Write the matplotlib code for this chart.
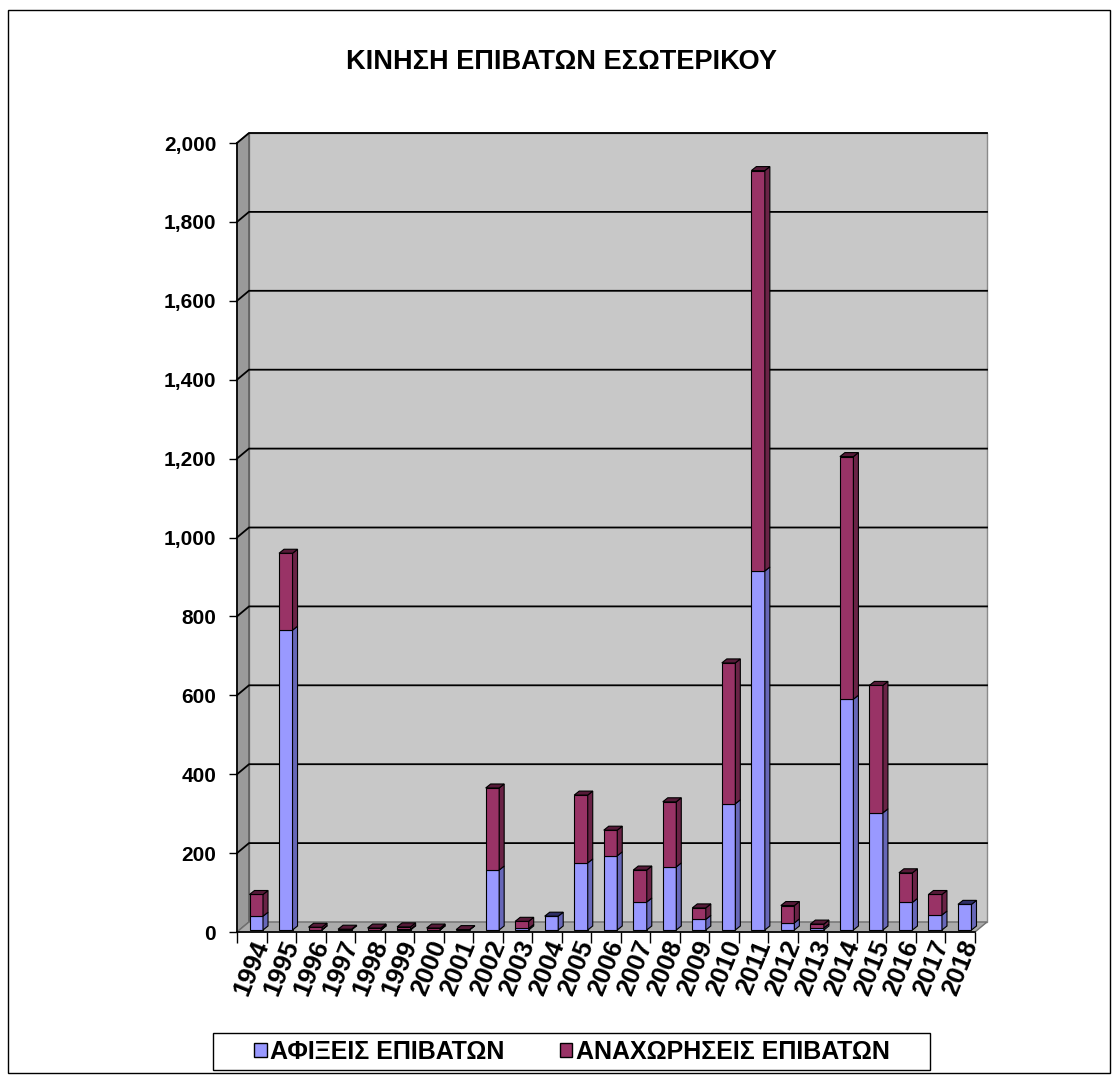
import numpy as np
import matplotlib
matplotlib.use("Agg")
import matplotlib.pyplot as plt
from matplotlib.patches import Polygon, Rectangle
import matplotlib.transforms as mtransforms

plt.rcParams['font.family'] = ['Liberation Sans', 'DejaVu Sans']

# --- data ---------------------------------------------------------------
YEARS = [str(y) for y in range(1994, 2019)]
ARRIVALS = [35, 760, 1, 0, 1, 2, 1, 0, 152, 4, 35, 170, 188, 71, 160,
            27, 320, 910, 18, 5, 585, 297, 70, 38, 65]
DEPARTURES = [55, 195, 6, 2, 4, 6, 4, 1, 208, 18, 0, 172, 65, 81, 165,
              29, 357, 1015, 44, 10, 615, 323, 75, 52, 0]
Y_TICKS = list(range(0, 2001, 200))

TITLE = "ΚΙΝΗΣΗ ΕΠΙΒΑΤΩΝ ΕΣΩΤΕΡΙΚΟΥ"
LABEL_ARR = "ΑΦΙΞΕΙΣ ΕΠΙΒΑΤΩΝ"
LABEL_DEP = "ΑΝΑΧΩΡΗΣΕΙΣ ΕΠΙΒΑΤΩΝ"

C_ARR = "#9999FF"
C_ARR_SIDE = "#6767b8"
C_ARR_TOP = "#2e2e66"
C_DEP = "#993366"
C_DEP_SIDE = "#6a2346"
C_DEP_TOP = "#561a38"

# --- geometry (pixels) ----------------------------------------------------
W, H = 1119, 1077
AX_L, AX_R, AX_B, AX_T = 237, 975, 932, 143
YMAX = 2000
n = len(YEARS)
PX_CAT = (AX_R - AX_L) / n
PX_VAL = (AX_B - AX_T) / YMAX


def px_x(p):
    return p / PX_CAT


def px_y(p):
    return p / PX_VAL


OX, OY = px_x(12), px_y(10)        # wall depth
BAR_W = px_x(13.5)
FX, FY = px_x(4.5), px_y(2)        # bar front offset
DX, DY = px_x(5), px_y(4)          # bar depth

fig = plt.figure(figsize=(W / 100, H / 100), dpi=100)
ax = fig.add_axes([AX_L / W, 1 - AX_B / H, (AX_R - AX_L) / W, (AX_B - AX_T) / H])
ax.set_xlim(-0.5, n - 0.5)
ax.set_ylim(0, YMAX)
ax.set_facecolor("none")

x0, x1 = -0.5, n - 0.5
# walls
ax.add_patch(Polygon([(x0 + OX, OY), (x1 + OX, OY), (x1 + OX, YMAX + OY), (x0 + OX, YMAX + OY)],
                     closed=True, fc="#c8c8c8", ec="#8a8a8a", lw=1, zorder=0, clip_on=False))
ax.add_patch(Polygon([(x0, 0), (x0 + OX, OY), (x0 + OX, YMAX + OY), (x0, YMAX)],
                     closed=True, fc="#9a9a9a", ec="#555555", lw=1, zorder=0, clip_on=False))
ax.add_patch(Polygon([(x0, 0), (x1, 0), (x1 + OX, OY), (x0 + OX, OY)],
                     closed=True, fc="#ababab", ec="#707070", lw=1, zorder=0, clip_on=False))

# gridlines on back wall
for v in Y_TICKS[1:]:
    ax.plot([x0, x0 + OX, x1 + OX], [v, v + OY, v + OY], color="black", lw=1.3,
            zorder=1, clip_on=False)

# bars
x = np.arange(n)
arr = np.array(ARRIVALS, dtype=float)
dep = np.array(DEPARTURES, dtype=float)
ax.bar(x + FX, arr, width=BAR_W, bottom=FY, color=C_ARR, edgecolor="black", lw=0.8, zorder=3)
ax.bar(x + FX, dep, width=BAR_W, bottom=FY + arr, color=C_DEP, edgecolor="black", lw=0.8, zorder=3)

for i in range(n):
    xl = x[i] + FX - BAR_W / 2
    xr = x[i] + FX + BAR_W / 2
    segs = [(FY, arr[i], C_ARR_SIDE), (FY + arr[i], dep[i], C_DEP_SIDE)]
    for b, h, c in segs:
        if h <= 0:
            continue
        ax.add_patch(Polygon([(xr, b), (xr + DX, b + DY), (xr + DX, b + h + DY), (xr, b + h)],
                             closed=True, fc=c, ec="black", lw=0.8, zorder=3, clip_on=False))
    top = FY + arr[i] + dep[i]
    tc = C_DEP_TOP if dep[i] > 0 else C_ARR_TOP
    ax.add_patch(Polygon([(xl, top), (xl + DX, top + DY), (xr + DX, top + DY), (xr, top)],
                         closed=True, fc=tc, ec="black", lw=0.8, zorder=3, clip_on=False))

# axes
for s in ("top", "right"):
    ax.spines[s].set_visible(False)
ax.spines["left"].set_color("black")
ax.spines["bottom"].set_color("black")
ax.spines["left"].set_linewidth(1.2)
ax.spines["bottom"].set_linewidth(1.2)

ax.set_yticks(Y_TICKS)
ax.set_yticklabels([f"{v:,}" for v in Y_TICKS], fontsize=15, fontweight="bold")
ax.tick_params(axis="y", direction="out", length=6, width=1, pad=9)

ax.set_xticks(x)
ax.set_xticks(np.arange(n + 1) - 0.5, minor=True)
ax.tick_params(axis="x", which="major", length=0, pad=4)
ax.tick_params(axis="x", which="minor", direction="out", length=8, width=1)
ax.set_xticklabels(YEARS, fontsize=18.5, fontweight="bold", rotation=68,
                   ha="right", va="center", rotation_mode="anchor")
shift = mtransforms.ScaledTranslation(11 / 100, -4 / 100, fig.dpi_scale_trans)
for lbl in ax.get_xticklabels():
    lbl.set_transform(lbl.get_transform() + shift)

fig.text(561 / W, 1 - 62 / H, TITLE, ha="center", va="center", fontsize=19.5, fontweight="bold")

# legend with its own frame
fig.patches.append(Rectangle((213 / W, 1 - 1070 / H), (930 - 213) / W, 37 / H,
                             transform=fig.transFigure, fill=False, ec="black", lw=1))
handles = [Rectangle((0, 0), 1, 1, fc=C_ARR, ec="black", lw=1),
           Rectangle((0, 0), 1, 1, fc=C_DEP, ec="black", lw=1)]
leg = fig.legend(handles, [LABEL_ARR, LABEL_DEP], loc="center",
                 bbox_to_anchor=(572 / W, 1 - 1052 / H), ncol=2, frameon=False,
                 prop={"size": 18, "weight": "bold"},
                 handlelength=0.5, handleheight=0.5, handletextpad=0.15,
                 columnspacing=2.2, borderpad=0, borderaxespad=0)

fig.patches.append(Rectangle((8 / W, 4 / H), (1110 - 8) / W, (1067 - 4) / H,
                             transform=fig.transFigure, fill=False, ec="black", lw=1))

fig.savefig("out.png", dpi=100)
